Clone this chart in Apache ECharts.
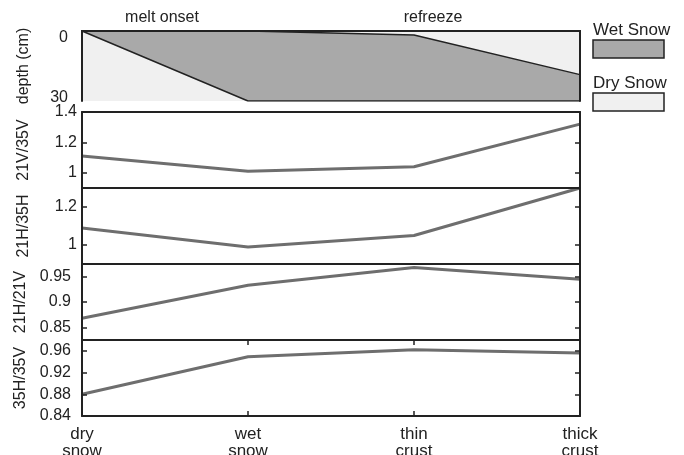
<!DOCTYPE html>
<html>
<head>
<meta charset="utf-8">
<script src="https://cdn.jsdelivr.net/npm/echarts@6/dist/echarts.min.js"></script>
<style>
  html, body { margin: 0; padding: 0; background: #fff; }
  #chart { width: 684px; height: 455px; }
</style>
</head>
<body>
<div id="chart"></div>
<script>
// Snow stages along the horizontal axis
const stages = ['dry\nsnow', 'wet\nsnow', 'thin\ncrust', 'thick\ncrust'];

// Depth (cm) of the wet-snow layer's upper and lower boundary at each stage
const wetTopDepth = [0, 0, 1.7, 18.7];
const wetBottomDepth = [0, 30, 30, 30];
const depthTicks = [0, 30];

// Brightness-temperature ratios per stage
const ratio21V35V = [1.11, 1.01, 1.04, 1.32];
const ratio21H35H = [1.09, 0.99, 1.05, 1.30];
const ratio21H21V = [0.868, 0.933, 0.968, 0.945];
const ratio35H35V = [0.880, 0.949, 0.962, 0.956];

const ticks21V35V = [1, 1.2, 1.4];
const ticks21H35H = [1, 1.2];
const ticks21H21V = [0.85, 0.9, 0.95];
const ticks35H35V = [0.84, 0.88, 0.92, 0.96];

const FONT = 'Liberation Sans';
const INK = '#222';
const LINE = '#6e6e6e';
const WET = '#a9a9a9';
const DRY = '#f0f0f0';

const panels = [
  { name: 'depth (cm)', top: 31, height: 70, min: 0, max: 30, ticks: depthTicks, inverse: true, margin: 14 },
  { name: '21V/35V', top: 112, height: 76, min: 0.9, max: 1.4, ticks: ticks21V35V, data: ratio21V35V, margin: 5 },
  { name: '21H/35H', top: 188, height: 76, min: 0.9, max: 1.3, ticks: ticks21H35H, data: ratio21H35H, margin: 5 },
  { name: '21H/21V', top: 264, height: 76, min: 0.825, max: 0.975, ticks: ticks21H21V, data: ratio21H21V, margin: 11 },
  { name: '35H/35V', top: 340, height: 76, min: 0.84, max: 0.98, ticks: ticks35H35V, data: ratio35H35V, margin: 11 }
];

const grid = [], xAxis = [], yAxis = [], series = [];
const last = panels.length - 1;

panels.forEach((p, i) => {
  grid.push({
    left: 82, right: 104, top: p.top, height: p.height,
    outerBoundsMode: 'none', containLabel: false,
    show: i === 0, backgroundColor: DRY, borderWidth: 0
  });
  const axisLine = { show: true, lineStyle: { color: INK, width: 2 } };
  ['bottom', 'top'].forEach(pos => {
    xAxis.push({
      type: 'category', gridIndex: i, position: pos, data: stages,
      boundaryGap: false, z: 10, axisLine,
      axisTick: { show: i === last, inside: true, length: 5, lineStyle: { color: INK, width: 1.5 } },
      axisLabel: {
        show: i === last && pos === 'bottom',
        color: INK, fontFamily: FONT, fontSize: 17, lineHeight: 17, margin: 10
      },
      splitLine: { show: false }
    });
  });
  ['left', 'right'].forEach(pos => {
    const isLeft = pos === 'left';
    const label = {
      show: isLeft, color: INK, fontFamily: FONT, fontSize: 16, margin: p.margin,
      customValues: p.ticks, showMinLabel: true, showMaxLabel: true
    };
    if (i === 0) {
      // keep the depth labels inside the box
      label.formatter = v => (v === p.min ? '{t|' + v + '}' : '{b|' + v + '}');
      label.rich = {
        t: { fontFamily: FONT, fontSize: 16, color: INK, padding: [14, 0, 0, 0] },
        b: { fontFamily: FONT, fontSize: 16, color: INK, padding: [0, 0, 6, 0] }
      };
    }
    yAxis.push({
      type: 'value', gridIndex: i, position: pos, min: p.min, max: p.max,
      inverse: !!p.inverse, z: 10, axisLine,
      name: isLeft ? p.name : '', nameLocation: 'middle', nameRotate: 90, nameGap: 50,
      nameTextStyle: { color: INK, fontFamily: FONT, fontSize: 16 },
      axisTick: {
        show: i !== 0, inside: true, length: 5, customValues: p.ticks,
        lineStyle: { color: INK, width: 1.5 }
      },
      axisLabel: label,
      splitLine: { show: false }
    });
  });
  if (i > 0) {
    series.push({
      type: 'line', xAxisIndex: 2 * i, yAxisIndex: 2 * i, data: p.data,
      symbol: 'none', lineStyle: { color: LINE, width: 3 }, z: 3
    });
  }
});

// Wet-snow layer drawn as a stacked band between its upper and lower boundary
const wetThickness = wetBottomDepth.map((b, k) => b - wetTopDepth[k]);
series.unshift(
  {
    type: 'line', xAxisIndex: 0, yAxisIndex: 0, stack: 'wet', data: wetTopDepth,
    symbol: 'none', lineStyle: { color: INK, width: 1.5 }, z: 4
  },
  {
    type: 'line', xAxisIndex: 0, yAxisIndex: 0, stack: 'wet', data: wetThickness,
    symbol: 'none', lineStyle: { color: INK, width: 1.5 },
    areaStyle: { color: WET, opacity: 1 }, z: 3
  }
);

const titleFont = '16px "Liberation Sans"';
const legendFont = '17px "Liberation Sans"';
const graphic = [
  { type: 'text', style: { x: 162, y: 18, text: 'melt onset', textAlign: 'center', textVerticalAlign: 'middle', fill: INK, font: titleFont } },
  { type: 'text', style: { x: 433, y: 18, text: 'refreeze', textAlign: 'center', textVerticalAlign: 'middle', fill: INK, font: titleFont } },
  { type: 'text', left: 593, top: 22, style: { text: 'Wet Snow', fill: INK, font: legendFont } },
  { type: 'rect', shape: { x: 593, y: 40, width: 71, height: 18 },
    style: { fill: WET, stroke: INK, lineWidth: 1.5 } },
  { type: 'text', left: 593, top: 75, style: { text: 'Dry Snow', fill: INK, font: legendFont } },
  { type: 'rect', shape: { x: 593, y: 93, width: 71, height: 18 },
    style: { fill: DRY, stroke: INK, lineWidth: 1.5 } }
];

const chart = echarts.init(document.getElementById('chart'), null, { renderer: 'canvas' });
chart.setOption({
  animation: false,
  backgroundColor: '#fff',
  grid, xAxis, yAxis, series, graphic
});
</script>
</body>
</html>
